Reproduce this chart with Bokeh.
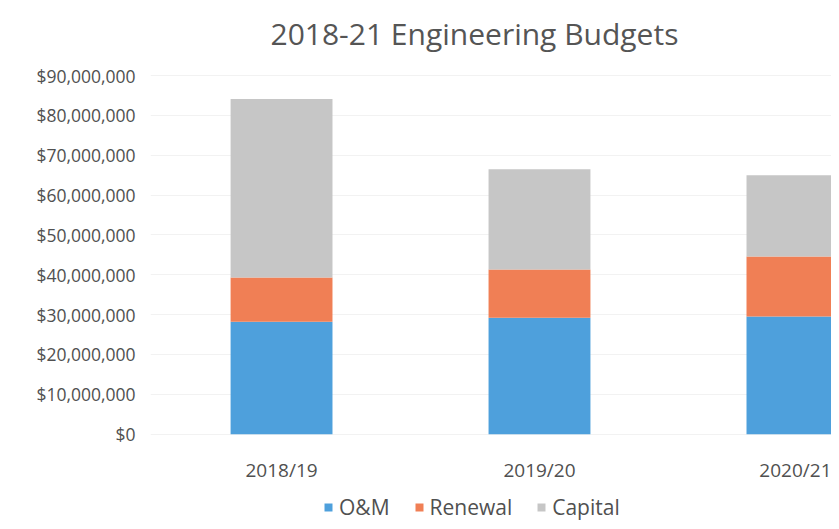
from bokeh.plotting import figure
from bokeh.models import Range1d, FixedTicker, NumeralTickFormatter, Legend, Title, LinearAxis
from bokeh.embed import file_html
from bokeh.resources import INLINE

years = ["2018/19", "2019/20", "2020/21"]
om = [28200000, 29200000, 29500000]
renewal = [11100000, 12100000, 15100000]
capital = [44800000, 25200000, 20400000]
series = ["O&M", "Renewal", "Capital"]
colors = ["#4EA0DC", "#F07F55", "#C6C6C6"]
y_ticks = [0, 10000000, 20000000, 30000000, 40000000,
           50000000, 60000000, 70000000, 80000000, 90000000]

FONT = "Open Sans"
TXT = "#505050"

x = list(range(len(years)))
data = {"x": x, "O&M": om, "Renewal": renewal, "Capital": capital}

p = figure(width=831, height=521, output_backend="svg", toolbar_location=None,
           x_range=Range1d(-0.508, 2.132), y_range=Range1d(-21930000, 93030000),
           min_border_left=150, min_border_right=0, min_border_top=0,
           min_border_bottom=0, x_axis_location=None)
p.outline_line_color = None

t = Title(text="2018-21 Engineering Budgets", align="left", offset=120,
          text_font=FONT, text_font_size="30px", text_font_style="normal",
          text_color="#555555", standoff=20)
p.add_layout(t, "above")

renderers = p.vbar_stack(series, x="x", width=0.395, color=colors, source=data,
                         line_color=None)

xax = LinearAxis(fixed_location=0)
p.add_layout(xax, "below")
xax.ticker = FixedTicker(ticks=x)
xax.major_label_overrides = {i: y for i, y in zip(x, years)}
xax.axis_line_color = None
xax.major_tick_line_color = None
xax.minor_tick_line_color = None
xax.major_label_standoff = 17
xax.major_label_text_font = FONT
xax.major_label_text_font_size = "19px"
xax.major_label_text_color = TXT

p.yaxis.ticker = FixedTicker(ticks=y_ticks)
p.yaxis.formatter = NumeralTickFormatter(format="$0,0")
p.yaxis.axis_line_color = None
p.yaxis.major_tick_line_color = None
p.yaxis.minor_tick_line_color = None
p.yaxis.major_label_standoff = 9
p.yaxis.major_label_text_font = FONT
p.yaxis.major_label_text_font_size = "17.5px"
p.yaxis.major_label_text_color = TXT

p.xgrid.grid_line_color = None
p.ygrid.grid_line_color = "#F2F2F2"

legend = Legend(items=[(s, [r]) for s, r in zip(series, renderers)],
                orientation="horizontal", location=(173, 0),
                label_text_font=FONT, label_text_font_size="21px",
                label_text_color=TXT, glyph_width=10, glyph_height=10,
                spacing=24, label_standoff=6, border_line_color=None,
                background_fill_alpha=0, margin=0, padding=1)
p.add_layout(legend, "center")

open("out.html", "w").write(file_html(p, INLINE))
